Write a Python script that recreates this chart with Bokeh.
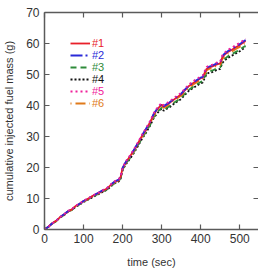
from bokeh.plotting import figure
from bokeh.models import Range1d, LinearAxis, Legend, LegendItem, FixedTicker
from bokeh.embed import file_html
from bokeh.resources import INLINE

# elapsed time (s)
time_sec = [0, 10, 20, 30, 40, 50, 60, 70, 80, 90, 100, 110, 120, 130, 140, 150, 160,
            170, 180, 190, 195, 200, 205, 210, 220, 230, 240, 250, 260, 270, 280, 290,
            300, 305, 310, 320, 330, 340, 350, 360, 370, 380, 390, 400, 405, 410, 415,
            420, 430, 440, 450, 455, 460, 470, 480, 490, 500, 510, 515]

# cumulative injected fuel mass (g) for each run
run1 = [0, 0.9, 2.0, 2.8, 4.0, 4.8, 5.9, 6.5, 7.6, 8.3, 9.2, 9.8, 10.6, 11.3, 11.9, 12.6,
        13.2, 14.4, 15.4, 16.0, 17.0, 19.8, 21.0, 22.0, 23.8, 25.8, 28.0, 30.3, 32.3, 34.5,
        37.2, 39.0, 40.3, 39.6, 40.0, 40.8, 41.8, 42.7, 43.6, 45.0, 46.3, 47.2, 48.0, 48.8,
        49.0, 50.5, 51.8, 52.2, 52.6, 53.2, 53.6, 55.5, 56.3, 57.3, 58.0, 58.8, 59.5, 60.4,
        60.8]
run2 = [0, 0.9, 2.0, 2.9, 4.0, 4.9, 5.9, 6.5, 7.6, 8.3, 9.2, 9.9, 10.6, 11.3, 12.0, 12.7,
        13.3, 14.5, 15.5, 16.1, 17.1, 19.9, 21.1, 22.1, 23.9, 25.9, 28.1, 30.4, 32.5, 34.7,
        37.4, 39.2, 40.5, 39.8, 40.2, 41.0, 42.0, 42.9, 43.8, 45.2, 46.5, 47.4, 48.2, 49.0,
        49.2, 50.8, 52.1, 52.5, 52.9, 53.5, 53.9, 55.8, 56.6, 57.6, 58.3, 59.1, 59.8, 60.7,
        61.1]
run3 = [0, 0.9, 1.9, 2.7, 3.9, 4.7, 5.8, 6.3, 7.4, 8.1, 9.0, 9.6, 10.3, 11.0, 11.6, 12.3,
        12.9, 14.0, 15.0, 15.6, 16.6, 19.3, 20.5, 21.5, 23.2, 25.2, 27.3, 29.5, 31.5, 33.6,
        36.3, 38.0, 39.3, 38.6, 39.0, 39.8, 40.8, 41.6, 42.5, 43.9, 45.1, 46.0, 46.8, 47.6,
        47.8, 49.2, 50.5, 50.9, 51.3, 51.9, 52.3, 54.1, 54.9, 55.9, 56.6, 57.3, 58.0, 58.9,
        59.3]
run4 = [0, 0.9, 1.9, 2.7, 3.9, 4.6, 5.7, 6.3, 7.3, 8.0, 8.9, 9.5, 10.2, 10.9, 11.5, 12.2,
        12.8, 13.9, 14.9, 15.5, 16.4, 19.1, 20.3, 21.3, 23.0, 24.9, 27.1, 29.3, 31.2, 33.4,
        36.0, 37.7, 39.0, 38.3, 38.7, 39.4, 40.4, 41.3, 42.1, 43.5, 44.8, 45.6, 46.4, 47.2,
        47.4, 48.8, 50.1, 50.5, 50.8, 51.4, 51.8, 53.6, 54.4, 55.4, 56.1, 56.8, 57.5, 58.4,
        58.8]
run5 = [0, 0.9, 2.0, 2.8, 4.0, 4.9, 6.0, 6.6, 7.7, 8.4, 9.3, 9.9, 10.7, 11.4, 12.0, 12.7,
        13.4, 14.6, 15.6, 16.2, 17.2, 20.0, 21.2, 22.3, 24.1, 26.1, 28.3, 30.7, 32.7, 34.9,
        37.6, 39.5, 40.8, 40.1, 40.5, 41.3, 42.3, 43.2, 44.1, 45.5, 46.8, 47.8, 48.6, 49.4,
        49.6, 51.1, 52.4, 52.8, 53.2, 53.8, 54.2, 56.1, 56.9, 58.0, 58.7, 59.5, 60.2, 61.1,
        61.5]
run6 = [0, 0.9, 2.0, 2.8, 4.0, 4.8, 5.8, 6.4, 7.5, 8.2, 9.1, 9.7, 10.5, 11.2, 11.8, 12.5,
        13.1, 14.3, 15.2, 15.8, 16.8, 19.6, 20.8, 21.8, 23.6, 25.5, 27.7, 30.0, 32.0, 34.2,
        36.8, 38.6, 39.9, 39.2, 39.6, 40.4, 41.4, 42.3, 43.2, 44.5, 45.8, 46.7, 47.5, 48.3,
        48.5, 50.0, 51.3, 51.7, 52.1, 52.7, 53.1, 54.9, 55.7, 56.7, 57.4, 58.2, 58.9, 59.8,
        60.2]

run_labels = ["#1", "#2", "#3", "#4", "#5", "#6"]
x_ticks = [0, 100, 200, 300, 400, 500]
y_ticks = [0, 10, 20, 30, 40, 50, 60, 70]

runs = [run1, run2, run3, run4, run5, run6]
colors = ["#e8202a", "#2a2ad8", "#2e8b3a", "#111111", "#f0209a", "#e07a1a"]
dashes = ["solid", "12 3 2 3", "6 4", "2 2", "2 3", "1 4 10 4"]
draw_order = [3, 2, 5, 0, 1, 4]

axis_color = "#5a5a5a"
text_color = "#333333"
font = "Liberation Sans"

p = figure(width=258, height=270, output_backend="svg", toolbar_location=None,
           x_range=Range1d(0, 548), y_range=Range1d(0, 70),
           min_border_left=0, min_border_right=0, min_border_top=12, min_border_bottom=0,
           background_fill_color="white", border_fill_color="white")
p.grid.visible = False
p.outline_line_color = None

renderers = {}
for i in draw_order:
    renderers[i] = p.line(time_sec, runs[i], line_color=colors[i], line_width=1.8,
                          line_dash=dashes[i])

for ax in (p.xaxis[0], p.yaxis[0]):
    ax.axis_line_color = axis_color
    ax.axis_line_width = 1.5
    ax.major_tick_line_color = axis_color
    ax.major_tick_line_width = 1.2
    ax.major_tick_in = 5
    ax.major_tick_out = 0
    ax.minor_tick_line_color = None
    ax.major_label_text_font = font
    ax.major_label_text_font_size = "12px"
    ax.major_label_text_color = text_color
    ax.axis_label_text_font = font
    ax.axis_label_text_font_size = "11px"
    ax.axis_label_text_font_style = "normal"
    ax.axis_label_text_color = text_color

p.xaxis[0].ticker = FixedTicker(ticks=x_ticks)
p.yaxis[0].ticker = FixedTicker(ticks=y_ticks)
p.xaxis[0].axis_label = "time (sec)"
p.yaxis[0].axis_label = "cumulative injected fuel mass (g)"
p.xaxis[0].major_label_standoff = 4
p.yaxis[0].major_label_standoff = 5
p.xaxis[0].axis_label_standoff = 10
p.yaxis[0].axis_label_standoff = 8

# mirrored tick marks on the top and right edges (no labels)
top_axis = LinearAxis(ticker=FixedTicker(ticks=x_ticks), axis_line_color=axis_color,
                      axis_line_width=1.5, major_tick_line_color=axis_color,
                      major_tick_line_width=1.2, major_tick_in=5, major_tick_out=0,
                      minor_tick_line_color=None, major_label_text_font_size="1px",
                      major_label_text_color=None, major_label_standoff=0)
p.add_layout(top_axis, "above")
right_axis = LinearAxis(ticker=FixedTicker(ticks=y_ticks), axis_line_color=None,
                        major_tick_line_color=axis_color,
                        major_tick_line_width=1.2, major_tick_in=5, major_tick_out=0,
                        minor_tick_line_color=None, major_label_text_font_size="1px",
                        major_label_text_color=None, major_label_standoff=0)
p.add_layout(right_axis, "right")

# one legend per run so each label takes its run's colour
for i in range(6):
    lg = Legend(items=[LegendItem(label=run_labels[i], renderers=[renderers[i]])],
                location=(26, 180 - i * 12.0), orientation="vertical",
                background_fill_alpha=0, border_line_alpha=0, padding=0, margin=0,
                spacing=0, glyph_width=20, glyph_height=10, label_standoff=2,
                label_height=10, label_text_font=font, label_text_font_size="11px",
                label_text_color=colors[i], label_text_baseline="middle")
    p.add_layout(lg)

open("out.html", "w").write(file_html(p, INLINE))
